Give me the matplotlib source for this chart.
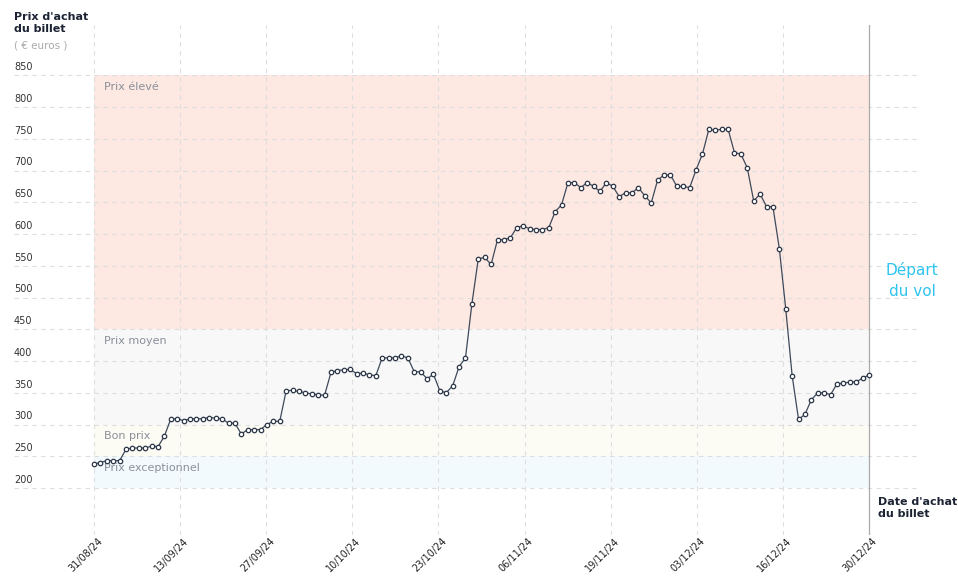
import matplotlib
matplotlib.use("Agg")
import matplotlib.pyplot as plt
import numpy as np
import datetime as dt

start = dt.date(2024, 8, 31)
prices = [238, 240, 243, 243, 243, 261, 263, 263, 263, 266, 265,
          282, 309, 309, 306, 309, 309, 309, 311, 310, 309, 302, 302, 285, 292, 292, 292, 300, 305, 305,
          353, 354, 352, 350, 348, 347, 346, 382, 385, 386, 387, 380, 381, 378, 377, 405, 405, 405, 408, 405,
          383, 383, 372, 379, 353, 350, 361, 391, 405, 490, 561, 563, 552, 591, 591, 594, 610, 613, 608, 607,
          607, 610, 635, 646, 681, 681, 673, 681, 675, 667, 681, 675, 659, 665, 665, 673, 660, 649, 685, 693,
          693, 675, 675, 673, 701, 726, 765, 763, 765, 765, 728, 726, 704, 652, 663, 643, 643, 577, 482, 377,
          308, 316, 339, 350, 350, 347, 364, 365, 367, 367, 373, 378]
days = list(range(len(prices)))
tick_labels = ["31/08/24", "13/09/24", "27/09/24", "10/10/24", "23/10/24", "06/11/24",
               "19/11/24", "03/12/24", "16/12/24", "30/12/24"]
y_ticks = [200, 250, 300, 350, 400, 450, 500, 550, 600, 650, 700, 750, 800, 850]
bands = [(450, 850, "#fde8e2", "Prix élevé"), (300, 450, "#f8f8f8", "Prix moyen"),
         (250, 300, "#fcfcf4", "Bon prix"), (200, 250, "#f2fafd", "Prix exceptionnel")]

W, H = 958, 585
fig = plt.figure(figsize=(W/100, H/100), dpi=100)
ax = fig.add_axes([14/W, 1-535/H, (918-14)/W, (535-25)/H])
ppd = 775/121
ax.set_xlim(-80/ppd, 121 + 49/ppd)
ax.set_ylim(200 - 47/0.635, 200 + 463/0.635)
ax.axis("off")

for lo, hi, c, lab in bands:
    ax.fill_between([0, 121], lo, hi, color=c, lw=0, zorder=0)
    ax.text(1.6, hi - 10, lab, fontsize=8, color="#8a8f99", va="top", ha="left", zorder=3)

for v in y_ticks:
    ax.plot([-80/ppd, 121 + 49/ppd], [v, v], ls=(0, (4, 4)), color="#dedede", lw=0.8, zorder=1)
    ax.text(-80/ppd, v + 5, str(v), fontsize=7, color="#333", va="bottom", ha="left")

ymin, ymax = ax.get_ylim()
tick_pos = np.linspace(0, 121, len(tick_labels))
for d, lab in zip(tick_pos, tick_labels):
    if d < 121:
        ax.plot([d, d], [ymin, ymax], ls=(0, (4, 4)), color="#dedede", lw=0.8, zorder=1)
    ax.text(d + 0.5, ymin - 2, lab, fontsize=7, color="#222", rotation=45, ha="right", va="top",
            rotation_mode="anchor", clip_on=False)
ax.plot([121, 121], [ymin, ymax], color="#aaaaaa", lw=0.9, zorder=2)

ax.plot(days, prices, color="#3d4a5c", lw=0.9, marker="o", ms=3.2, mfc="white", mec="#2b3648",
        mew=0.9, zorder=4, clip_on=False)

fig.text(14/W, 1-12/H, "Prix d'achat\ndu billet", fontsize=8, fontweight="bold", color="#1c2333",
         va="top", ha="left", linespacing=1.3)
fig.text(14/W, 1-46/H, "( € euros )", fontsize=7.5, color="#aaaaaa", va="center", ha="left")
fig.text(878/W, 1-497/H, "Date d'achat\ndu billet", fontsize=8, fontweight="bold", color="#1c2333",
         va="top", ha="left", linespacing=1.3)
fig.text(912/W, 1-280/H, "Départ\ndu vol", fontsize=11, color="#2ec4ef", va="center", ha="center",
         linespacing=1.5)

fig.savefig("out.png", dpi=100, facecolor="white")
